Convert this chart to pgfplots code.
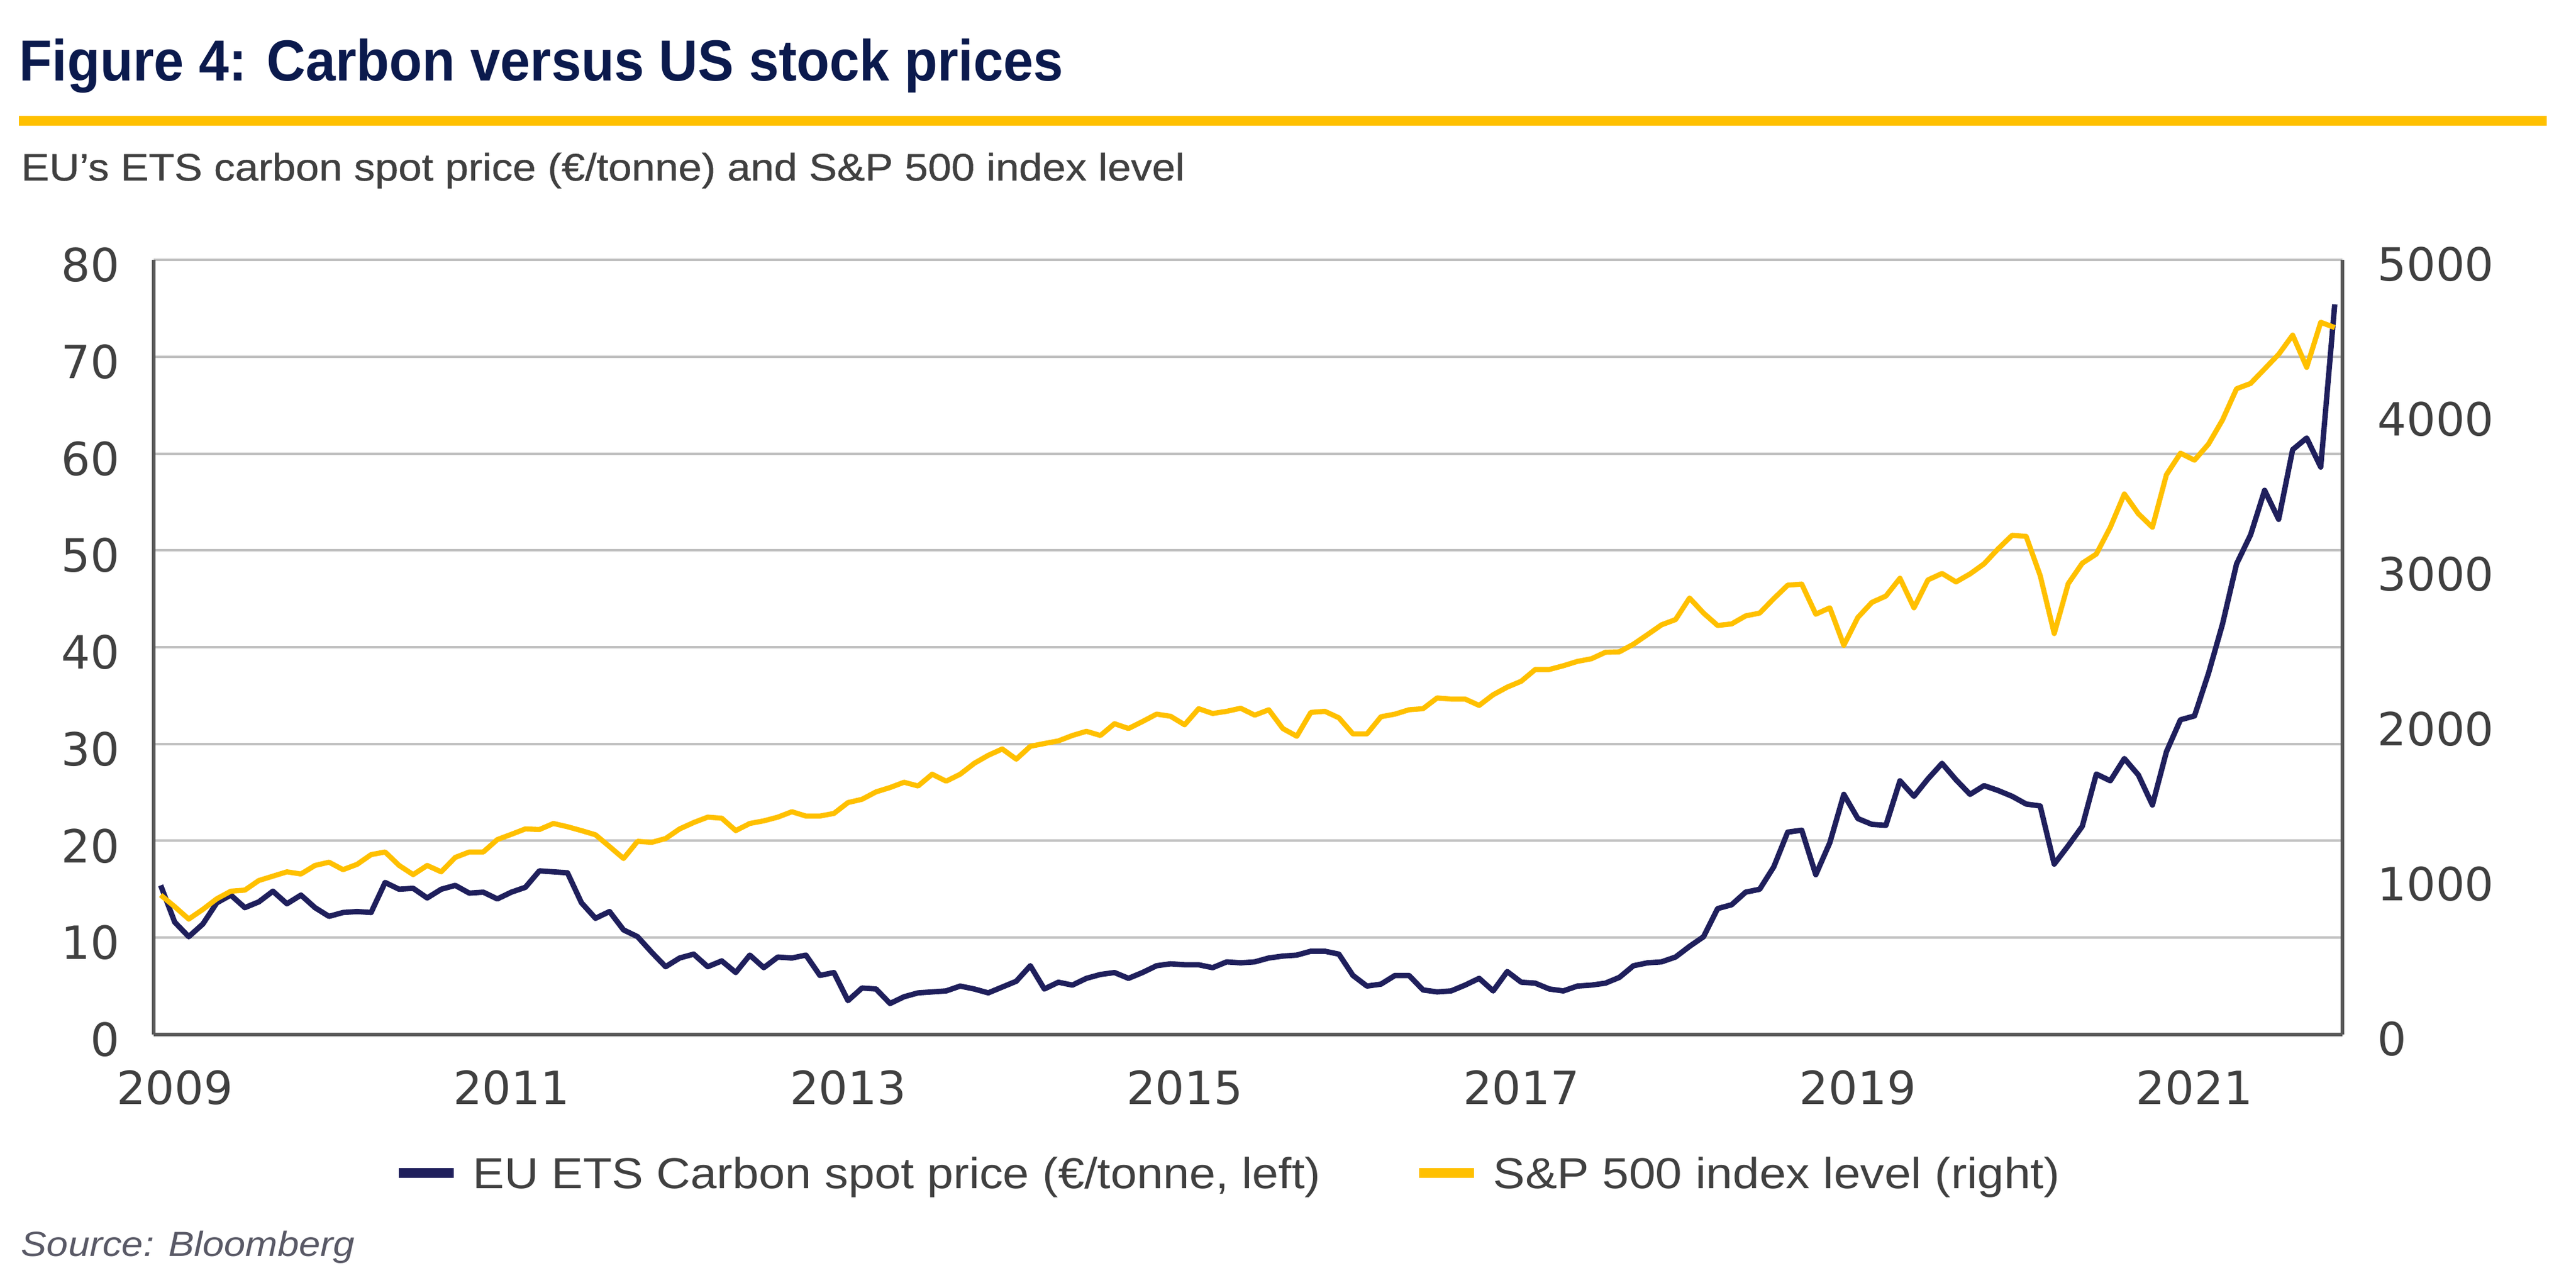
\documentclass[border=0pt]{standalone}
\usepackage{fontspec}
\setmainfont{Liberation Sans}
\newfontfamily\djv{DejaVu Sans}
\newfontfamily\medfont[FakeBold=0.6]{Liberation Sans}
\usepackage{graphicx}
\usepackage{pgfplots}
\usepackage{pgfplotstable}
\pgfplotsset{compat=1.18}
\definecolor{navy}{HTML}{1F1F5C}
\definecolor{gold}{HTML}{FFC000}
\definecolor{titlenavy}{HTML}{0B1A4D}
\definecolor{txtgray}{HTML}{404040}
\definecolor{srcgray}{HTML}{595966}
\definecolor{gridgray}{HTML}{C0C0C0}
\definecolor{axgray}{HTML}{595959}

\pgfplotstableread{
i c s
0 15.4 900
1 11.6 825
2 10.1 745
3 11.4 807
4 13.6 876
5 14.4 925
6 13.1 932
7 13.7 994
8 14.8 1022
9 13.5 1050
10 14.4 1036
11 13.1 1091
12 12.2 1112
13 12.6 1064
14 12.7 1098
15 12.6 1161
16 15.7 1178
17 15.0 1091
18 15.1 1032
19 14.1 1091
20 15.0 1050
21 15.4 1143
22 14.6 1178
23 14.7 1178
24 14.0 1258
25 14.7 1292
26 15.2 1327
27 16.9 1323
28 16.8 1362
29 16.7 1341
30 13.6 1316
31 12.0 1289
32 12.7 1213
33 10.8 1136
34 10.1 1247
35 8.5 1240
36 7.0 1265
37 7.9 1327
38 8.3 1368
39 7.0 1403
40 7.6 1396
41 6.4 1316
42 8.2 1362
43 6.9 1379
44 8.0 1403
45 7.9 1438
46 8.2 1410
47 6.1 1410
48 6.4 1427
49 3.5 1497
50 4.8 1518
51 4.7 1566
52 3.2 1594
53 3.9 1628
54 4.3 1604
55 4.4 1680
56 4.5 1635
57 5.0 1680
58 4.7 1750
59 4.3 1802
60 4.9 1843
61 5.5 1777
62 7.1 1860
63 4.7 1878
64 5.4 1895
65 5.1 1930
66 5.8 1957
67 6.2 1930
68 6.4 2006
69 5.8 1975
70 6.4 2020
71 7.1 2068
72 7.3 2054
73 7.2 1999
74 7.2 2103
75 6.9 2072
76 7.5 2086
77 7.4 2106
78 7.5 2061
79 7.9 2096
80 8.1 1975
81 8.2 1925
82 8.6 2079
83 8.6 2086
84 8.3 2044
85 6.1 1940
86 5.0 1940
87 5.2 2051
88 6.1 2068
89 6.1 2096
90 4.6 2103
91 4.4 2172
92 4.5 2165
93 5.1 2165
94 5.8 2124
95 4.5 2193
96 6.5 2242
97 5.4 2280
98 5.3 2356
99 4.7 2356
100 4.5 2380
101 5.0 2408
102 5.1 2425
103 5.3 2467
104 5.9 2470
105 7.1 2519
106 7.4 2581
107 7.5 2644
108 8.0 2678
109 9.1 2817
110 10.1 2720
111 13.0 2640
112 13.4 2650
113 14.7 2702
114 15.0 2720
115 17.3 2813
116 20.9 2900
117 21.1 2907
118 16.5 2713
119 19.8 2754
120 24.8 2512
121 22.3 2692
122 21.7 2789
123 21.6 2830
124 26.2 2945
125 24.6 2754
126 26.4 2934
127 28.0 2976
128 26.3 2921
129 24.8 2973
130 25.7 3038
131 25.2 3135
132 24.6 3222
133 23.8 3215
134 23.6 2962
135 17.6 2588
136 19.5 2910
137 21.5 3042
138 26.9 3101
139 26.2 3274
140 28.5 3489
141 26.8 3361
142 23.7 3274
143 29.2 3613
144 32.5 3752
145 32.9 3707
146 37.3 3811
147 42.4 3967
148 48.6 4168
149 51.6 4202
150 56.2 4296
151 53.2 4390
152 60.4 4514
153 61.6 4306
154 58.6 4597
155 75.4 4563
}\data

\begin{document}
\begin{tikzpicture}[x=1pt,y=1pt]
\path[use as bounding box] (0pt,0pt) rectangle (1056pt,521.5pt);
% title
\node[anchor=base west, inner sep=0pt, text=titlenavy, font=\bfseries\fontsize{23.75}{28}\selectfont]
  at (7.75pt,488.25pt) {\resizebox{428pt}{\height}{Figure 4: Carbon versus US stock prices}};
\fill[gold] (7.75pt,470.1pt) rectangle (1044pt,473.9pt);
% subtitle
\node[anchor=base west, inner sep=0pt, text=txtgray, font=\medfont\fontsize{15.7}{18}\selectfont]
  at (8.5pt,447.5pt) {\resizebox{477pt}{\height}{EU’s ETS carbon spot price (€/tonne) and S\&P 500 index level}};
% source
\node[anchor=base west, inner sep=0pt, text=srcgray, font=\itshape\fontsize{14.3}{17}\selectfont]
  at (8.5pt,6.75pt) {\resizebox{136.75pt}{\height}{Source: Bloomberg}};

\pgfplotsset{
  common/.style={
    at={(63pt,97.5pt)}, anchor=south west, scale only axis,
    width=897.25pt, height=317.5pt,
    xmin=-0.5, xmax=155.55,
    major tick length=0pt,
    scaled y ticks=false,
    /pgf/number format/assume math mode=true,
    /pgf/number format/set thousands separator={},
    tick label style={font=\djv\fontsize{18.75}{22}\selectfont, text=txtgray},
    axis line style={-, axgray, line width=1.3pt},
  }
}

\begin{axis}[common,
  ymin=0, ymax=80, ytick={0,10,...,80},
  xtick={1,25,49,73,97,121,145},
  xticklabels={2009,2011,2013,2015,2017,2019,2021},
  axis x line*=bottom, axis y line*=left,
  ymajorgrids, grid style={gridgray, line width=1pt},
  xticklabel style={anchor=north, inner sep=0pt, yshift=-14.5pt},
  yticklabel style={anchor=east, inner sep=0pt, xshift=-13.75pt, yshift=-2.1pt},
]
\addplot[navy, line width=2.2pt, line join=round] table[x=i,y=c]{\data};
\end{axis}

\begin{axis}[common,
  ymin=0, ymax=5000, ytick={0,1000,...,5000},
  axis x line=none, axis y line*=right,
  yticklabel style={anchor=west, inner sep=0pt, xshift=14.25pt, yshift=-1.9pt},
  legend columns=2,
  legend image code/.code={\draw[#1, line cap=butt, line width=4pt] (0pt,6.35pt) -- (22.5pt,6.35pt);},
  legend style={at={(0.1095,-0.17843)}, anchor=west, draw=none, fill=none, inner sep=0pt,
    nodes={inner sep=0pt, text height=12.7pt, text depth=0pt, anchor=base west,
      font=\fontsize{17.8}{20}\selectfont, text=txtgray},
    /tikz/every odd column/.append style={column sep=6pt},
    /tikz/every even column/.append style={column sep=38.25pt}},
]
\addlegendimage{navy, line width=2.2pt}
\addlegendentry{\resizebox{347.5pt}{\height}{EU ETS Carbon spot price (€/tonne, left)}}
\addplot[gold, line width=2.1pt, line join=round] table[x=i,y=s]{\data};
\addlegendentry{\resizebox{232.25pt}{\height}{S\&P 500 index level (right)}}
\end{axis}
\end{tikzpicture}
\end{document}
